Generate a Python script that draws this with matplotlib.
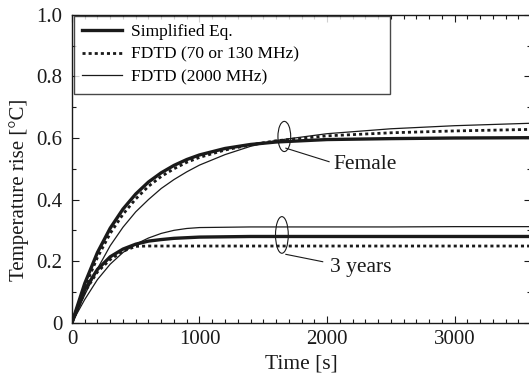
import numpy as np
import matplotlib

matplotlib.use("Agg")
import matplotlib.pyplot as plt
from matplotlib.patches import Ellipse
from matplotlib.ticker import MultipleLocator

plt.rcParams["font.family"] = ["Liberation Serif", "DejaVu Serif"]

# sample times [s]
t = [0, 100, 200, 300, 400, 500, 600, 700, 800, 900, 1000, 1200, 1400, 1600,
     2000, 2500, 3000, 3600]

# Female
fem_simple = [0, 0.127, 0.228, 0.307, 0.369, 0.418, 0.457, 0.487, 0.511, 0.530,
              0.545, 0.566, 0.579, 0.587, 0.595, 0.598, 0.600, 0.601]
fem_fdtd70 = [0, 0.115, 0.212, 0.290, 0.352, 0.402, 0.443, 0.475, 0.500, 0.521,
              0.537, 0.561, 0.578, 0.591, 0.607, 0.617, 0.623, 0.628]
fem_fdtd2000 = [0, 0.090, 0.175, 0.250, 0.310, 0.360, 0.400, 0.436, 0.465, 0.490,
                0.512, 0.546, 0.573, 0.592, 0.614, 0.630, 0.640, 0.648]

# 3 years
y3_simple = [0, 0.107, 0.173, 0.214, 0.239, 0.255, 0.265, 0.270, 0.274, 0.276,
             0.278, 0.279, 0.280, 0.280, 0.280, 0.280, 0.280, 0.280]
y3_fdtd70 = [0, 0.100, 0.165, 0.205, 0.232, 0.248, 0.249, 0.249, 0.249, 0.249,
             0.249, 0.249, 0.249, 0.249, 0.249, 0.249, 0.249, 0.249]
y3_fdtd2000 = [0, 0.075, 0.140, 0.190, 0.228, 0.255, 0.275, 0.290, 0.300, 0.306,
               0.309, 0.310, 0.311, 0.311, 0.311, 0.311, 0.312, 0.312]

labels = ["Simplified Eq.", "FDTD (70 or 130 MHz)", "FDTD (2000 MHz)"]
ink = "#1a1a1a"

fig = plt.figure(figsize=(5.29, 3.73), dpi=100)
ax = fig.add_axes([0.136, 0.135, 0.868, 0.825])

styles = [dict(lw=2.4, ls="-"), dict(lw=2.0, ls=(0, (1.1, 1.1))), dict(lw=0.9, ls="-")]
for series, st, lab in zip([fem_simple, fem_fdtd70, fem_fdtd2000], styles, labels):
    ax.plot(t, series, color=ink, label=lab, **st)
for series, st in zip([y3_simple, y3_fdtd70, y3_fdtd2000], styles):
    ax.plot(t, series, color=ink, **st)

# group markers
for (cx, cy, h), (lx0, ly0, lx1, ly1), (tx, ty, txt) in [
        ((1665, 0.605, 0.098), (1677, 0.567, 2016, 0.523), (2050, 0.515, "Female")),
        ((1646, 0.285, 0.119), (1677, 0.222, 1966, 0.198), (2025, 0.180, "3 years"))]:
    ax.add_patch(Ellipse((cx, cy), 100, h, fill=False, ec=ink, lw=0.8))
    ax.plot([lx0, lx1], [ly0, ly1], color=ink, lw=0.8)
    ax.text(tx, ty, txt, fontsize=15.5, va="center", ha="left", color=ink)

ax.set_xlim(0, 3600)
ax.set_ylim(0, 1.0)
ax.set_xticks([0, 1000, 2000, 3000])
ax.set_yticks([0, 0.2, 0.4, 0.6, 0.8, 1.0])
ax.set_yticklabels(["0", "0.2", "0.4", "0.6", "0.8", "1.0"])
ax.xaxis.set_minor_locator(MultipleLocator(100))
ax.yaxis.set_minor_locator(MultipleLocator(0.1))
ax.tick_params(which="both", direction="in", top=True, right=True, labelsize=15,
               colors=ink)
ax.tick_params(axis="x", pad=5)
ax.tick_params(axis="y", pad=7)
ax.tick_params(which="major", length=5, width=0.8)
ax.tick_params(which="minor", length=3, width=0.8)
for s in ax.spines.values():
    s.set_linewidth(1.0)
    s.set_color(ink)

ax.set_xlabel("Time [s]", fontsize=15.5, labelpad=4, color=ink)
ax.set_ylabel("Temperature rise [°C]", fontsize=15, color=ink)
ax.yaxis.set_label_coords(-0.094, 0.43)

leg = ax.legend(loc="upper left", bbox_to_anchor=(0.004, 0.0, 0.689, 0.998),
                mode="expand", fontsize=12.5, frameon=True, fancybox=False,
                edgecolor=ink, borderpad=0.5, handlelength=2.3, labelspacing=0.36,
                handletextpad=0.5, borderaxespad=0.0)
leg.get_frame().set_linewidth(1.0)

fig.savefig("out.png", dpi=100)
